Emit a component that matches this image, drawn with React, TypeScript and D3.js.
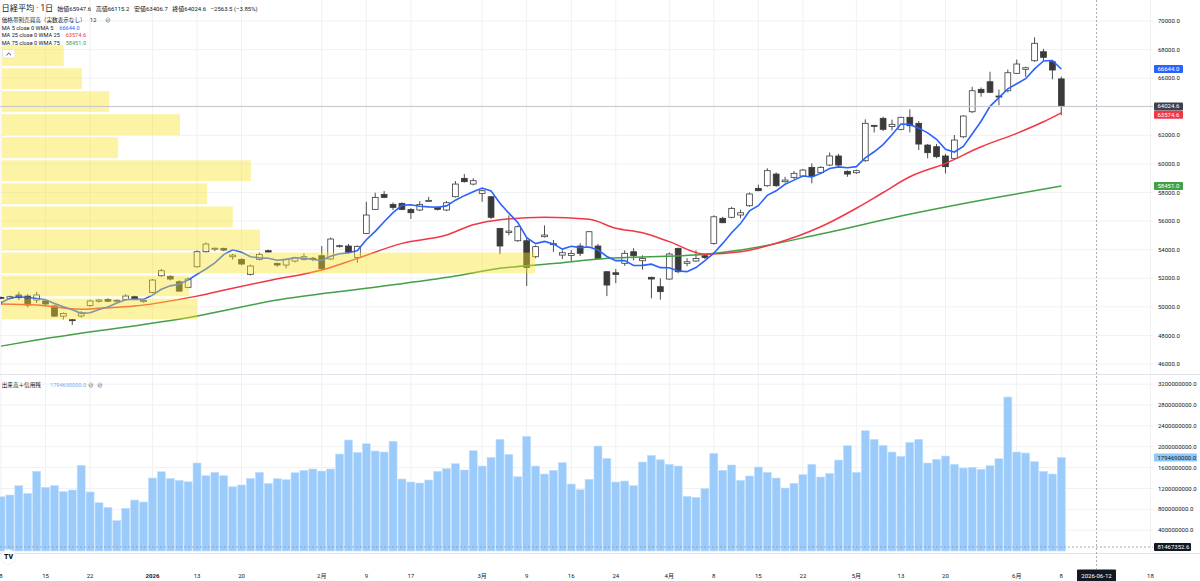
import React from "react";
import * as d3 from "d3";

// ---------- data ----------
const openP = [50650,50590,50830,50760,50480,50410,50060,49350,49100,49360,50100,50390,50520,50430,50520,50710,50360,51015,52175,52135,51755,51365,52805,53855,54050,54090,53505,53320,52275,53320,53925,53040,52925,53205,53320,53400,53575,53345,54250,54255,53460,55140,56820,57870,57170,57240,56820,56775,57420,56960,56775,57705,58990,58590,57940,57705,55490,55200,54625,54625,53505,54910,54350,53620,53600,54255,54160,54255,52455,52385,53045,53855,53225,52065,51410,51945,54090,53045,53205,53575,54440,56195,56265,56425,57075,58290,58475,59290,58755,59060,59150,59760,59385,59920,60555,59480,59385,60225,62700,63190,62610,62420,63260,62840,61320,61205,60555,60390,61900,63650,65220,65750,64750,65120,66340,66620,67220,67850,67150,65947.6];
const highP = [50720,50780,51050,50900,51050,50500,50150,49600,49150,49700,50500,50550,50600,50520,50900,50780,50550,51950,52650,52200,51850,52050,53950,54500,54150,54150,53700,53400,52950,53800,54000,53100,53400,53500,53745,53500,54250,54850,54350,54400,54300,57350,57985,58100,57300,57300,56900,57400,57700,57050,57400,58800,59290,59000,58200,57750,55500,56400,55700,54900,54300,55700,54680,53950,53970,54450,55300,54400,52500,52650,53950,54100,53600,52100,52000,53800,54150,53400,53950,53650,56400,56300,57000,56800,58000,58550,59700,59400,59100,59500,59650,60040,59850,60800,60700,59550,59600,63120,62720,63300,63100,63300,63820,63000,61400,61400,60700,62020,63400,65400,65350,66450,65200,66600,67300,66800,68860,68050,67200,66115.2];
const lowP = [50540,50500,50470,49960,50270,50100,49300,49120,48730,49250,50000,50300,50330,50380,50450,50500,50300,50950,52100,51850,51050,51300,52750,53800,53900,53900,53300,52900,52200,53250,53800,52800,52700,53100,53250,53200,52600,53300,54150,53750,53085,55100,56800,57600,56775,56750,56150,56700,57400,56750,56700,57650,58700,58500,57350,56150,53675,55000,54550,51455,53400,54850,53850,53340,53200,53550,54100,53300,50750,51650,52870,53250,52600,50600,50500,51900,52350,52850,53150,53350,54350,55850,56200,56200,57000,58100,58400,58400,58700,58950,59100,58640,59300,59850,59850,59100,59300,60150,62200,62300,62350,62350,62200,60970,60390,60400,59340,60300,61800,63550,64700,64950,64100,65000,66300,66100,67150,67200,65920,63406.7];
const closeP = [50620,50710,50640,50130,50830,50200,49350,49540,49050,49590,50410,50480,50390,50460,50760,50550,50450,51875,52525,51945,51100,51945,53855,54395,54100,53975,53620,52995,52855,53670,53835,52925,53320,53435,53505,53350,52665,54745,54280,53815,54230,56425,57660,57660,56960,56820,56585,57170,57450,56820,57285,58590,58755,58825,58125,56265,54255,55300,55605,52760,54210,55025,54420,53785,53740,53745,55255,53365,51525,52270,53745,53575,53390,51945,51060,53695,52455,53155,53390,53460,56300,55885,56890,56585,57895,58125,59525,58475,58870,59340,59570,59150,59760,60555,59920,59290,59525,62840,62680,62420,62770,63260,62670,61390,60785,60505,59805,61670,63350,65120,64985,65010,64700,66380,66990,66730,68440,67460,66570,64024.6];

// volume, in millions
const volumeM = [1041,1074,1253,1106,1529,1222,1253,1138,1170,1644,1132,926,838,582,819,978,940,1400,1521,1394,1356,1329,1688,1444,1509,1444,1233,1266,1394,1509,1298,1387,1368,1502,1548,1573,1534,1573,1860,2129,1893,2058,1918,1899,2104,1381,1323,1304,1362,1529,1579,1675,1554,1924,1630,1797,2142,1854,1425,2199,1630,1477,1548,1694,1285,1176,1375,2014,1778,1323,1343,1253,1707,1835,1751,1663,1630,1049,1030,1195,1874,1548,1650,1356,1439,1611,1509,1400,1208,1298,1464,1663,1419,1490,1745,2020,1509,2307,2142,2027,1899,1816,2085,2142,1688,1759,1822,1663,1592,1605,1567,1636,1770,2954,1899,1880,1713,1529,1477,1794.69];

const ma5 = [50287,50595,50706,50650,50586,50502,50230,50010,49794,49546,49588,49814,49984,50266,50500,50528,50522,50819,51232,51469,51579,51878,52274,52648,53079,53654,53989,53817,53509,53423,53395,53256,53321,53437,53404,53307,53255,53540,53709,53771,53947,54699,55282,55958,56587,57105,57137,57039,56997,56969,57062,57463,57780,58055,58316,58112,57245,56554,55910,54837,54426,54580,54404,54040,54236,54143,54189,53978,53526,53232,53232,52896,52901,52985,52743,52733,52509,52462,52751,53231,53752,54438,55185,55824,56711,57076,57804,58121,58578,58867,59156,59081,59338,59675,59791,59735,59810,60426,60851,61351,62047,62794,62760,62502,62175,61722,61031,60831,61223,62090,62986,64027,64643,65249,65613,65962,66648,67200,67238,66644];

const ma25Idx = [0,4,9,11,15,20,22,26,30,36,40,45,50,53,56,61,66,69,72,75,79,83,87,92,96,99,102,106,110,114,117,119];
const ma25Val = [50200,50120,49830,49900,50050,50520,50750,51300,51830,52580,53390,54440,55020,55750,56100,56260,56120,55500,55180,54560,53680,53850,54450,55600,56900,58000,59100,60040,61200,62140,62950,63574.6];

const ma75Idx = [0,4,22,31,41,51,56,62,67,79,83,92,101,112,119];
const ma75Val = [47250,47675,49355,50475,51295,52155,52695,53030,53345,53675,53975,55095,56355,57685,58451];

// volume profile (12 rows), price edges top->bottom and relative volume per row
const vpEdges = [68320,66710,65100,63490,61880,60260,58650,57040,55420,53810,52200,50590,48980];
const vpVolume = [11.6,15.0,20.1,33.4,21.8,46.7,38.5,43.3,48.4,100,35.1,36.6];

const priceTicks = [46000,48000,50000,52000,54000,56000,58000,60000,62000,64000,66000,68000,70000];
const volumeTicksM = [400,800,1200,1600,2000,2400,2800,3200];
const xTickIdx = [0,5,10,17,22,27,36,41,46,54,59,64,69,75,80,85,90,96,101,106,114,119,129];
const xTickLabels = ["8","15","22","2026","13","20","2月","9","17","3月","9","16","24","4月","8","15","22","5月","13","20","6月","8","18"];

const ohlcLabels = ["始値", "高値", "安値", "終値"];
const ohlcValues = [65947.6, 66115.2, 63406.7, 64024.6];
const changeText = "−2563.5 (−3.85%)";

const FONT = "Roboto, 'Noto Sans CJK JP', 'Noto Sans', sans-serif";
const TXT = "#131722";

export default function App() {
  const W = 1200, H = 581;
  const plotR = 1153;
  const x = d3.scaleLinear().domain([0, 119]).range([1, 1061.3]);
  const y = d3.scaleLinear().domain([46000, 70000]).range([364, 21]);
  const yv = d3.scaleLinear().domain([0, 3200]).range([551, 384.2]);
  const vpW = d3.scaleLinear().domain([0, 100]).range([0, 533]);

  const ma5Line = d3.line<number>().x((_, i) => x(i)).y((d) => y(d))(ma5) || "";
  const ma25Line = d3.line<number>().x((_, i) => x(ma25Idx[i])).y((d) => y(d)).curve(d3.curveMonotoneX)(ma25Val) || "";
  const ma75Line = d3.line<number>().x((_, i) => x(ma75Idx[i])).y((d) => y(d)).curve(d3.curveMonotoneX)(ma75Val) || "";

  const last = closeP[closeP.length - 1];
  const tags = [
    { v: ma5[ma5.length - 1], bg: "#2962ff", fg: "#fff", yc: y(ma5[ma5.length - 1]) },
    { v: last, bg: "#3d414b", fg: "#fff", yc: y(last) },
    { v: ma25Val[ma25Val.length - 1], bg: "#f23645", fg: "#fff", yc: y(last) + 8.4 },
    { v: ma75Val[ma75Val.length - 1], bg: "#43a047", fg: "#fff", yc: y(ma75Val[ma75Val.length - 1]) },
  ];

  const crossX = 1096.5;
  const crossY = 547;

  return (
    <svg width={W} height={H} style={{ position: "absolute", left: 0, top: 0, display: "block", background: "#fff" }} fontFamily={FONT}>
      <rect x={0} y={0} width={W} height={H} fill="#fff" />
      {/* vertical grid */}
      {xTickIdx.map((t, i) => (
        <line key={"vg" + i} x1={x(t)} x2={x(t)} y1={0} y2={553} stroke="#f0f1f4" strokeWidth={1} />
      ))}
      {/* horizontal grid */}
      {priceTicks.map((p) => (
        <line key={"pg" + p} x1={0} x2={plotR} y1={y(p)} y2={y(p)} stroke="#f0f1f4" strokeWidth={1} />
      ))}
      {volumeTicksM.map((v) => (
        <line key={"vgl" + v} x1={0} x2={plotR} y1={yv(v)} y2={yv(v)} stroke="#f0f1f4" strokeWidth={1} />
      ))}
      {/* pane separators */}
      <line x1={0} x2={W} y1={374.5} y2={374.5} stroke="#e0e3eb" strokeWidth={1} />
      <line x1={0} x2={W} y1={553.5} y2={553.5} stroke="#e0e3eb" strokeWidth={1} />

      {/* volume bars */}
      {volumeM.map((v, i) => (
        <rect key={"v" + i} x={x(i) - 4} y={yv(v)} width={8} height={yv(0) - yv(v)} fill="#9bcbfb" stroke="#c3e0fd" strokeWidth={0.6} />
      ))}

      {/* candles */}
      {openP.map((o, i) => {
        const c = closeP[i];
        const up = c >= o;
        const top = y(Math.max(o, c));
        const bot = y(Math.min(o, c));
        const h = Math.max(1, bot - top);
        const cx = x(i);
        return (
          <g key={"c" + i}>
            <line x1={cx} x2={cx} y1={y(highP[i])} y2={y(lowP[i])} stroke="#3a3a3a" strokeWidth={0.9} />
            <rect x={cx - 2.9} y={top} width={5.8} height={h} fill={up ? "#ffffff" : "#3a3a3a"} stroke="#3a3a3a" strokeWidth={0.8} />
          </g>
        );
      })}

      {/* moving averages */}
      <path d={ma75Line} fill="none" stroke="#43a047" strokeWidth={1.5} />
      <path d={ma25Line} fill="none" stroke="#f23645" strokeWidth={1.5} />
      <path d={ma5Line} fill="none" stroke="#2962ff" strokeWidth={1.6} />

      {/* volume profile */}
      {vpVolume.map((v, i) => (
        <rect key={"vp" + i} x={2} y={y(vpEdges[i]) + 0.2} width={vpW(v)} height={y(vpEdges[i + 1]) - y(vpEdges[i]) - 2.3} fill="rgb(250,225,35)" fillOpacity={0.41} />
      ))}
      <rect x={2.5} y={49.5} width={12.5} height={8.5} rx={1.5} fill="#fff" stroke="#d6d9e0" strokeWidth={0.6} />
      <path d="M6.5,55.3 L8.75,53.1 L11,55.3" fill="none" stroke="#131722" strokeWidth={0.8} />

      {/* last price line */}
      <line x1={0} x2={plotR} y1={y(last)} y2={y(last)} stroke="#c4c6cc" strokeWidth={1} />

      {/* crosshair */}
      <line x1={crossX} x2={crossX} y1={0} y2={569} stroke="#9598a1" strokeWidth={0.8} strokeDasharray="2,2" />
      <line x1={0} x2={plotR} y1={crossY} y2={crossY} stroke="#9598a1" strokeWidth={0.8} strokeDasharray="2,2" />

      {/* price axis labels */}
      {priceTicks.map((p) => (
        <text key={"pl" + p} x={1158} y={y(p)} dy="0.35em" fontSize={6} fill={TXT}>{p.toFixed(1)}</text>
      ))}
      {volumeTicksM.map((v) => (
        <text key={"vl" + v} x={1158} y={yv(v)} dy="0.35em" fontSize={6} fill={TXT}>{(v * 1e6).toFixed(1)}</text>
      ))}
      {tags.map((t, i) => (
        <g key={"tag" + i}>
          <rect x={1154} y={t.yc - 4} width={29} height={8} rx={1} fill={t.bg} />
          <text x={1157.5} y={t.yc} dy="0.35em" fontSize={6} fill={t.fg}>{t.v.toFixed(1)}</text>
        </g>
      ))}
      <rect x={1154} y={yv(volumeM[volumeM.length - 1]) - 4} width={43} height={8} rx={1} fill="#90c8f9" />
      <text x={1157.5} y={yv(volumeM[volumeM.length - 1])} dy="0.35em" fontSize={6} fill={TXT}>{(volumeM[volumeM.length - 1] * 1e6).toFixed(1)}</text>
      <rect x={1154} y={crossY - 4} width={37} height={8} rx={1} fill="#131722" />
      <text x={1157.5} y={crossY} dy="0.35em" fontSize={6} fill="#fff">81467352.6</text>

      {/* time axis labels */}
      {xTickIdx.map((t, i) => (
        <text key={"xl" + i} x={x(t)} y={576} dy="0.35em" textAnchor="middle" fontSize={6} fontWeight={xTickLabels[i] === "2026" ? 700 : 400} fill={TXT}>{xTickLabels[i]}</text>
      ))}
      <rect x={1077} y={569.5} width={39} height={12} rx={1} fill="#131722" />
      <text x={crossX} y={576} dy="0.35em" textAnchor="middle" fontSize={6} fill="#fff">2026-06-12</text>

      {/* TV logo */}
      <circle cx={8.5} cy={557} r={7.5} fill="#fff" stroke="#e9eaee" strokeWidth={0.6} />
      <text x={8.5} y={557} dy="0.35em" textAnchor="middle" fontSize={7} fontWeight={900} fill="#131722">TV</text>

      {/* legends */}
      <text x={1.5} y={11.3} fontSize={8.2} fill={TXT}>日経平均 · 1日</text>
      <text x={57.3} y={10.6} fontSize={6} fill={TXT}>
        {ohlcLabels.map((l, i) => (
          <tspan key={"oh" + i} dx={i === 0 ? 0 : 4.5}>{l + ohlcValues[i].toFixed(1)}</tspan>
        ))}
        <tspan dx={4.5}>{changeText}</tspan>
      </text>

      <text x={1.7} y={21.9} fontSize={5.6} fill={TXT}>価格帯別売買高（実数表示なし）</text>
      <text x={90} y={21.9} fontSize={5.6} fill={TXT}>12</text>
      <text x={105} y={21.9} fontSize={5.6} fill={TXT}>⊘</text>

      <text x={1.7} y={29.6} fontSize={5.6} fill={TXT}>MA 5 close 0 WMA 5</text>
      <text x={59.3} y={29.6} fontSize={5.6} fill="#2962ff">{ma5[ma5.length - 1].toFixed(1)}</text>
      <text x={1.7} y={37.3} fontSize={5.6} fill={TXT}>MA 25 close 0 WMA 25</text>
      <text x={65.7} y={37.3} fontSize={5.6} fill="#f23645">{ma25Val[ma25Val.length - 1].toFixed(1)}</text>
      <text x={1.7} y={45.2} fontSize={5.6} fill={TXT}>MA 75 close 0 WMA 75</text>
      <text x={65.7} y={45.2} fontSize={5.6} fill="#43a047">{ma75Val[ma75Val.length - 1].toFixed(1)}</text>

      <text x={1.7} y={387} fontSize={5.6} fill={TXT}>出来高＋信用残</text>
      <text x={50} y={387} fontSize={5.6} fill="#6fb1f3">{(volumeM[volumeM.length - 1] * 1e6).toFixed(1)}</text>
      <text x={88} y={387} fontSize={5.6} fill={TXT}>⊘</text>
      <text x={97} y={387} fontSize={5.6} fill={TXT}>⊘</text>
    </svg>
  );
}
